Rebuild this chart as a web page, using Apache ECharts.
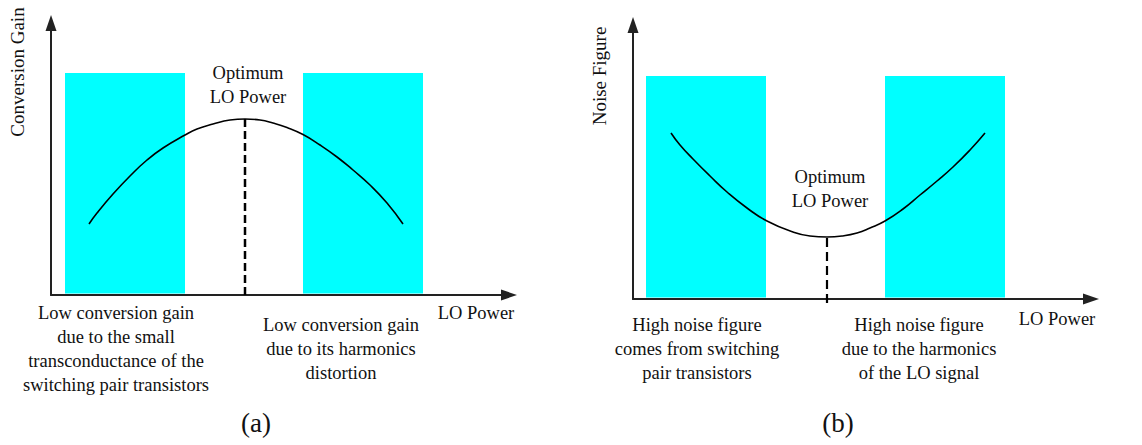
<!DOCTYPE html>
<html>
<head>
<meta charset="utf-8">
<script src="https://cdn.jsdelivr.net/npm/echarts@6/dist/echarts.min.js"></script>
<style>
  html, body { margin: 0; padding: 0; background: #ffffff; }
  #chart { width: 1142px; height: 445px; }
</style>
</head>
<body>
<div id="chart"></div>
<script>
// Panel (a): conversion gain versus LO power (arbitrary units)
const gainX = [38, 46, 62, 79, 96, 112, 134, 146, 162, 179, 194, 209, 222, 236, 252, 269, 286, 302, 319, 336, 352];
const gainY = [71, 82, 101, 119, 135, 147, 160, 166, 171, 175, 176, 175, 172, 167.5, 160.5, 150, 138, 125, 110, 92, 71];
const gainOptimumX = 194;
const gainOptimumY = 176;
// shaded regions [start, end, height]
const gainRegions = [[14, 134, 222], [252, 372, 222]];

// Panel (b): noise figure versus LO power (arbitrary units)
const nfX = [38, 47, 60, 77, 94, 114, 134, 160, 177, 194, 209, 224, 237, 252, 270, 287, 304, 320, 337, 352];
const nfY = [166, 154, 140, 123, 107, 91, 78, 67, 63, 62, 63, 66, 71, 78, 90, 104, 118, 132, 149, 166];
const nfOptimumX = 194;
const nfOptimumY = 62;
const nfRegions = [[13, 133, 223], [252, 372, 223]];

const xAxisLabel = 'LO Power';
const yLabelA = 'Conversion Gain';
const yLabelB = 'Noise Figure';
const optimumText = 'Optimum\nLO Power';
const notesA = [
  'Low conversion gain\ndue to the small\ntransconductance of the\nswitching pair transistors',
  'Low conversion gain\ndue to its harmonics\ndistortion'
];
const notesB = [
  'High noise figure\ncomes from switching\npair transistors',
  'High noise figure\ndue to the harmonics\nof the LO signal'
];
const captions = ['(a)', '(b)'];

const FONT = '"Liberation Serif", "Times New Roman", serif';
const INK = '#111111';
const CYAN = '#00ffff';

function axisLine() {
  return {
    show: true,
    symbol: ['none', 'triangle'],
    symbolSize: [11, 16],
    lineStyle: { color: '#222', width: 2 }
  };
}

function makeAxes(gridIndex, yMax) {
  return {
    x: {
      type: 'value', gridIndex, min: 0, max: 458,
      axisLine: axisLine(), axisTick: { show: false },
      axisLabel: { show: false }, splitLine: { show: false }
    },
    y: {
      type: 'value', gridIndex, min: 0, max: yMax,
      axisLine: axisLine(), axisTick: { show: false },
      axisLabel: { show: false }, splitLine: { show: false }
    }
  };
}

const axA = makeAxes(0, 272);
const axB = makeAxes(1, 274);

function regionSeries(idx, regions) {
  return {
    type: 'custom',
    xAxisIndex: idx, yAxisIndex: idx,
    silent: true, z: 1,
    data: regions,
    renderItem: function (params, api) {
      const p0 = api.coord([api.value(0), api.value(2)]);
      const p1 = api.coord([api.value(1), 1.5]);
      return {
        type: 'rect',
        shape: { x: p0[0], y: p0[1], width: p1[0] - p0[0], height: p1[1] - p0[1] },
        style: { fill: CYAN }
      };
    }
  };
}

function curveSeries(idx, xs, ys) {
  return {
    type: 'line',
    xAxisIndex: idx, yAxisIndex: idx,
    data: xs.map((x, i) => [x, ys[i]]),
    smooth: 0.5,
    symbol: 'none',
    silent: true, z: 3,
    lineStyle: { color: '#000', width: 1.6 }
  };
}

function optimumSeries(idx, x, y, yStart, dash, width) {
  return {
    type: 'line',
    xAxisIndex: idx, yAxisIndex: idx,
    data: [[x, yStart], [x, y]],
    symbol: 'none', clip: false,
    silent: true, z: 4,
    lineStyle: { color: '#000', width: width, type: dash }
  };
}

function text(x, y, str, size, extra) {
  return Object.assign({
    type: 'text', x: x, y: y, silent: true,
    style: {
      text: str, fill: INK, font: size + 'px ' + FONT,
      align: 'center', verticalAlign: 'middle', lineHeight: 24
    }
  }, extra || {});
}

const chart = echarts.init(document.getElementById('chart'), null, { renderer: 'svg' });

chart.setOption({
  animation: false,
  backgroundColor: '#ffffff',
  grid: [
    { left: 51, top: 23, width: 458, height: 272 },
    { left: 633, top: 25, width: 458, height: 274 }
  ],
  xAxis: [axA.x, axB.x],
  yAxis: [axA.y, axB.y],
  series: [
    regionSeries(0, gainRegions),
    curveSeries(0, gainX, gainY),
    optimumSeries(0, gainOptimumX, gainOptimumY, 0, [8, 4], 2.5),
    regionSeries(1, nfRegions),
    curveSeries(1, nfX, nfY),
    optimumSeries(1, nfOptimumX, nfOptimumY, -4, [9, 5], 2.2)
  ],
  graphic: [
    text(17.5, 72, yLabelA, 19, { rotation: Math.PI / 2 }),
    text(599.5, 76, yLabelB, 19, { rotation: Math.PI / 2 }),
    text(248, 85, optimumText, 18.5),
    text(830, 189, optimumText, 18.5),
    text(116, 349, notesA[0], 18.5),
    text(341, 349, notesA[1], 18.5),
    text(476, 313, xAxisLabel, 18.5),
    text(697, 349, notesB[0], 18.5),
    text(919, 349, notesB[1], 18.5),
    text(1057, 319, xAxisLabel, 18.5),
    text(256, 423, captions[0], 27),
    text(838, 423, captions[1], 27)
  ]
});
</script>
</body>
</html>
